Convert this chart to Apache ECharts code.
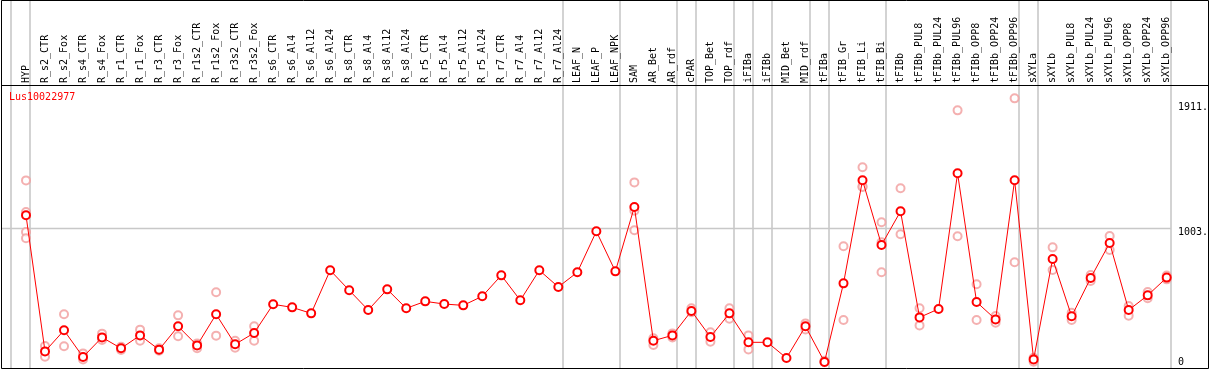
<!DOCTYPE html>
<html>
<head>
<meta charset="utf-8">
<script src="https://cdn.jsdelivr.net/npm/echarts@6/dist/echarts.min.js"></script>
<style>
  html, body { margin: 0; padding: 0; background: #fff; }
  #chart { width: 1209px; height: 370px; }
</style>
</head>
<body>
<div id="chart"></div>
<script>
var geneName = 'Lus10022977'

var categories = [
  'HYP', 'R_s2_CTR', 'R_s2_Fox', 'R_s4_CTR', 'R_s4_Fox', 'R_r1_CTR', 'R_r1_Fox', 'R_r3_CTR', 'R_r3_Fox',
  'R_r1s2_CTR', 'R_r1s2_Fox', 'R_r3s2_CTR', 'R_r3s2_Fox', 'R_s6_CTR', 'R_s6_Al4', 'R_s6_Al12', 'R_s6_Al24',
  'R_s8_CTR', 'R_s8_Al4', 'R_s8_Al12', 'R_s8_Al24', 'R_r5_CTR', 'R_r5_Al4', 'R_r5_Al12', 'R_r5_Al24',
  'R_r7_CTR', 'R_r7_Al4', 'R_r7_Al12', 'R_r7_Al24', 'LEAF_N', 'LEAF_P', 'LEAF_NPK', 'SAM', 'AR_Bet', 'AR_rdf',
  'cPAR', 'TOP_Bet', 'TOP_rdf', 'iFIBa', 'iFIBb', 'MID_Bet', 'MID_rdf', 'tFIBa', 'tFIB_Gr', 'tFIB_Li', 'tFIB_Bi',
  'tFIBb', 'tFIBb_PUL8', 'tFIBb_PUL24', 'tFIBb_PUL96', 'tFIBb_OPP8', 'tFIBb_OPP24', 'tFIBb_OPP96',
  'sXYLa', 'sXYLb', 'sXYLb_PUL8', 'sXYLb_PUL24', 'sXYLb_PUL96', 'sXYLb_OPP8', 'sXYLb_OPP24', 'sXYLb_OPP96'
]

// mean expression (red line)
var meanValues = [
  1101, 81, 239, 39, 186, 104, 201, 94, 269, 126, 359, 134, 219,
  434, 411, 366, 689, 539, 391, 546, 404,
  456, 436, 426, 494, 651, 464, 689, 564,
  674, 981, 681, 1164,
  161, 201, 384, 189, 366, 149, 149, 31, 269,
  2, 591, 1364, 879, 1131, 336, 399, 1416, 451, 321, 1364,
  21, 774, 344, 631, 894, 391, 501, 634
]

// replicates (pink circles), null = no replicate
var rep1 = [
  1363, 121, 359, 66, 214, 116, 244, 104, 351, 141, 524, 161, 269,
  null, null, null, null, null, null, null, null,
  null, null, null, null, null, null, null, null,
  null, null, null, 1348,
  179, 216, 404, 224, 404, 201, null, null, 291,
  10, 869, 1461, 1049, 1304, 404, null, 1888, 584, 346, 1978,
  34, 861, 371, 654, 946, 421, 526, 649
]
var rep2 = [
  1126, 41, 119, 21, 166, 91, 161, 86, 194, 104, 199, 109, 161,
  null, null, null, null, null, null, null, null,
  null, null, null, null, null, null, null, null,
  null, null, null, 1136,
  129, 186, 374, 154, 326, 96, null, null, 246,
  0, 316, 1318, 899, 959, 276, null, 944, 316, 296, 749,
  4, 691, 316, 609, 841, 349, 479, 621
]
var rep3 = [
  976, null, null, null, null, null, null, null, null, null, null, null, null,
  null, null, null, null, null, null, null, null,
  null, null, null, null, null, null, null, null,
  null, null, null, 989,
  null, null, null, null, null, null, null, null, null,
  null, null, 1313, 674, null, null, null, null, null, null, null,
  null, null, null, null, null, null, null, null
]
var rep4 = [929]

// gray separators come after these category indices (-1 = before the first)
var groupEnds = [-1, 0, 28, 31, 34, 35, 37, 38, 39, 41, 42, 45, 52, 53, 60]

var axisMarks = [1911, 1003, 0]
var axisMarkLabels = ['1911.', '1003.', '0']
var gridValue = 1003

var monoFont = '"DejaVu Sans Mono", "Liberation Mono", monospace'
var repColor = '#f19c9c'

var myChart = echarts.init(document.getElementById('chart'))

function repSeries(values) {
  return {
    type: 'scatter',
    data: values,
    symbol: 'emptyCircle',
    symbolSize: 8,
    itemStyle: { color: repColor, borderColor: repColor, borderWidth: 1.3 },
    z: 3,
    silent: true
  }
}

var option = {
  animation: false,
  backgroundColor: '#ffffff',
  grid: { left: 26, right: 42.3, top: 85, bottom: 1 },
  xAxis: {
    type: 'category',
    data: categories,
    position: 'top',
    boundaryGap: false,
    axisLine: { show: false },
    axisTick: { show: false },
    splitLine: { show: false },
    axisLabel: {
      interval: 0,
      rotate: 90,
      margin: 2,
      color: '#000',
      fontFamily: monoFont,
      fontSize: 10
    }
  },
  yAxis: {
    type: 'value',
    min: -51,
    max: 2078,
    show: false,
    splitLine: { show: false }
  },
  series: [
    repSeries(rep1),
    repSeries(rep2),
    repSeries(rep3),
    repSeries(rep4),
    {
      type: 'line',
      data: meanValues,
      symbol: 'emptyCircle',
      symbolSize: 8,
      lineStyle: { color: '#ff0000', width: 1 },
      itemStyle: { color: '#ff0000', borderColor: '#ff0000', borderWidth: 1.8 },
      z: 5
    }
  ]
}

myChart.setOption(option)

// frame, group separators and right-hand value marks from the axes
var x0 = myChart.convertToPixel({ xAxisIndex: 0 }, 0)
var step = myChart.convertToPixel({ xAxisIndex: 0 }, 1) - x0
var sepX = groupEnds.map(function (i) { return Math.round(x0 + i * step + 4.3) })
var plotRight = sepX[sepX.length - 1]
var graphics = []

sepX.forEach(function (x) {
  graphics.push({
    type: 'line', z: 0, silent: true,
    shape: { x1: x, y1: 0, x2: x, y2: 368 },
    style: { stroke: '#c8c8c8', lineWidth: 1.6 }
  })
})

var gy = Math.round(myChart.convertToPixel({ yAxisIndex: 0 }, gridValue)) + 0.5
graphics.push({
  type: 'line', z: 0, silent: true,
  shape: { x1: 1, y1: gy, x2: plotRight, y2: gy },
  style: { stroke: '#c8c8c8', lineWidth: 1.6 }
})

axisMarks.forEach(function (v, k) {
  var y = myChart.convertToPixel({ yAxisIndex: 0 }, v)
  if (v === gridValue) y += 4
  graphics.push({
    type: 'text', z: 10, silent: true,
    x: plotRight + 7, y: y,
    style: { text: axisMarkLabels[k], fill: '#000', font: '10px ' + monoFont, verticalAlign: 'middle', align: 'left' }
  })
})

graphics.push({
  type: 'text', z: 10, silent: true,
  x: 9, y: 97,
  style: { text: geneName, fill: '#ff0000', font: '10px ' + monoFont, verticalAlign: 'middle', align: 'left' }
})

// outer frame and header line
graphics.push({
  type: 'rect', z: 20, silent: true,
  shape: { x: 1.5, y: 0.5, width: 1207, height: 368 },
  style: { fill: null, stroke: '#000', lineWidth: 1 }
})
graphics.push({
  type: 'line', z: 20, silent: true,
  shape: { x1: 1, y1: 85.5, x2: 1209, y2: 85.5 },
  style: { stroke: '#000', lineWidth: 1 }
})

myChart.setOption({ graphic: graphics })
</script>
</body>
</html>
